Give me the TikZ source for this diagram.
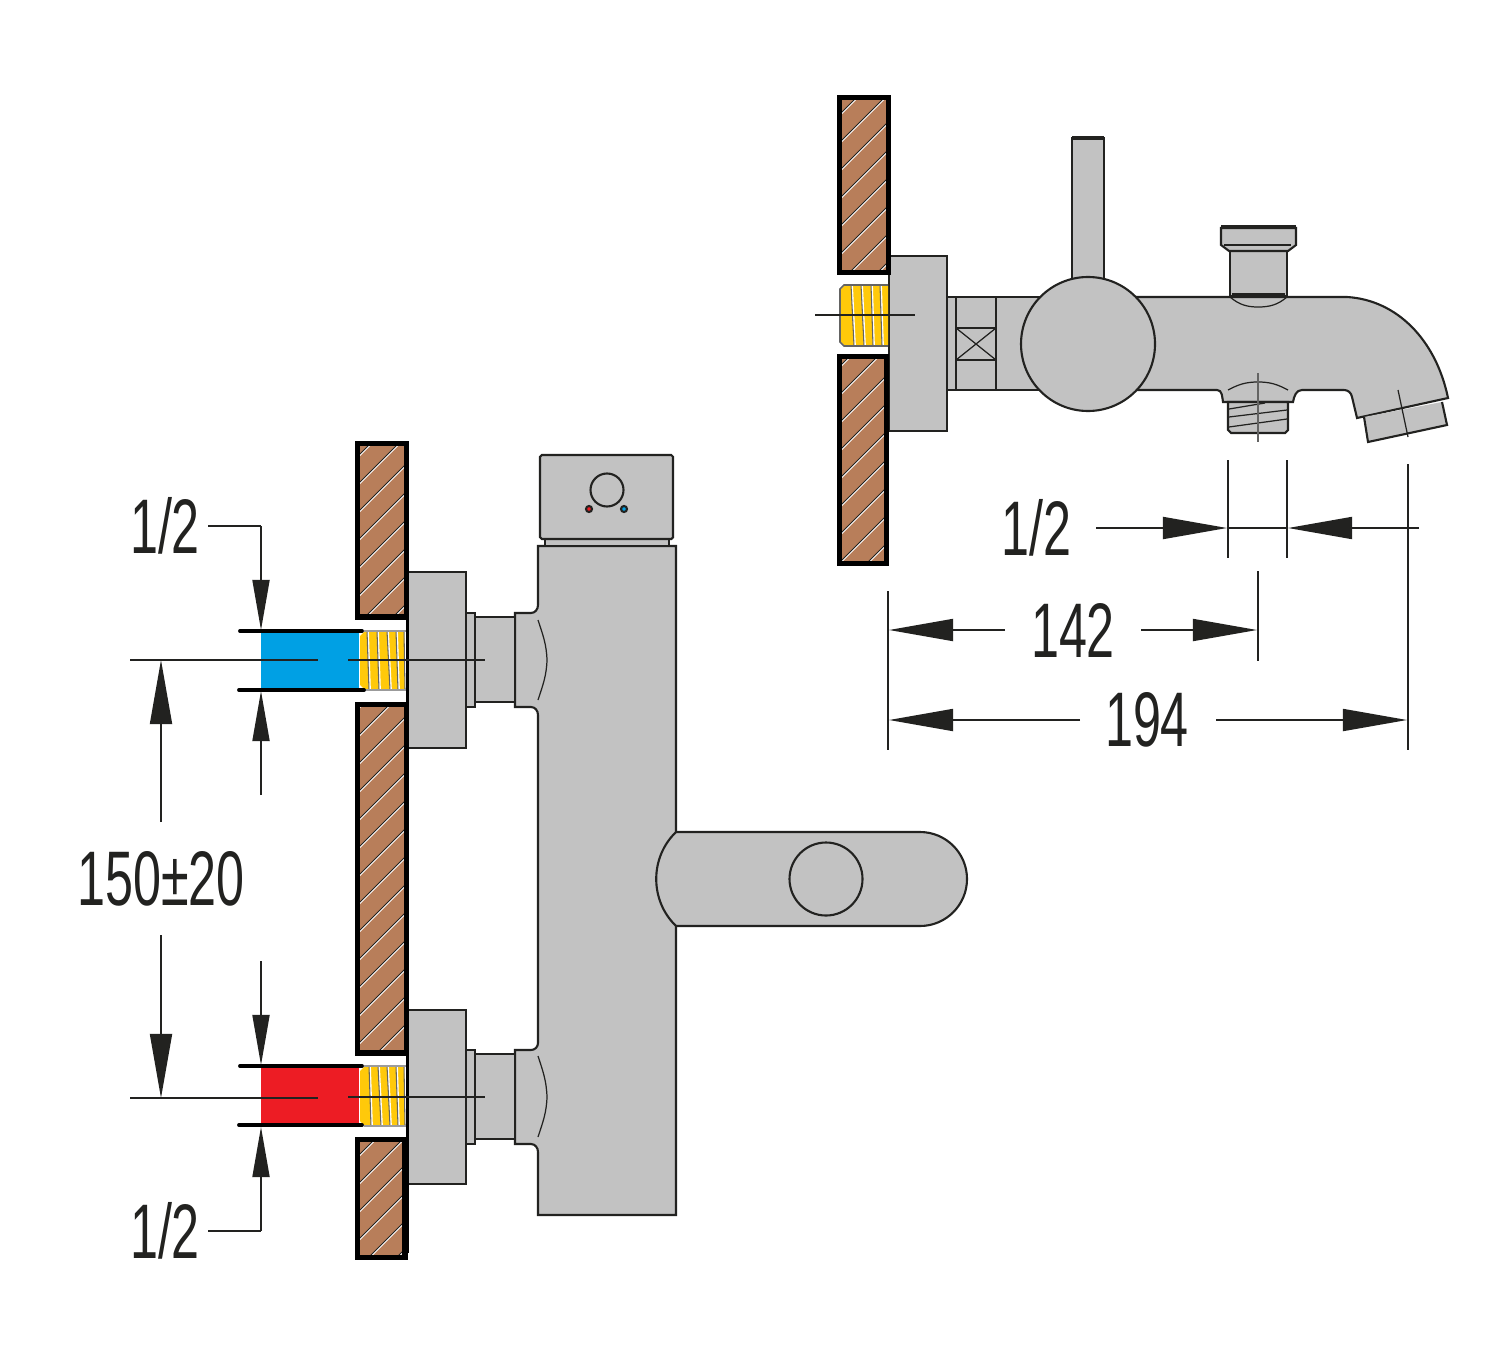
\documentclass[tikz,border=0pt]{standalone}
\usepackage{fontspec}
\setmainfont{Liberation Sans}
\usetikzlibrary{arrows.meta}
\definecolor{bodygrey}{HTML}{C2C2C2}
\definecolor{linedark}{HTML}{222220}
\definecolor{brickbrown}{HTML}{B87E5A}
\definecolor{threadyellow}{HTML}{FFC90A}
\definecolor{coldblue}{HTML}{00A0E4}
\definecolor{hotred}{HTML}{ED1C24}
\newcommand{\dimtext}[1]{\scalebox{.65}[1]{\fontsize{22}{22}\selectfont #1}}
\newcommand{\brickwall}[4]{%
  \begin{scope}
    \clip (#1,#2) rectangle (#3,#4);
    \fill[brickbrown] (#1,#2) rectangle (#3,#4);
    \foreach \c in {450,478,...,2000} {
      \draw[white,line width=.4pt] (\c+1,0) -- (0,\c+1);
      \draw[linedark,line width=.28pt] (\c,0) -- (0,\c);
    }
  \end{scope}
  \draw[black,line width=1.45pt] (#1,#2) rectangle (#3,#4);
}
\tikzset{
  part/.style={fill=bodygrey,draw=linedark,line width=.6pt},
  heavy/.style={draw=linedark,line width=.8pt},
  thin part/.style={draw=linedark,line width=.35pt},
  pipeline/.style={black,line width=1.1pt,line cap=round},
  center/.style={draw=linedark,line width=.5pt},
  dimline/.style={draw=linedark,line width=.5pt},
  dimsmall/.style={dimline,-{Triangle[length=5mm,width=1.7mm]}},
  dimbig/.style={dimline,-{Triangle[length=6.4mm,width=2.2mm]}},
  label/.style={inner sep=0pt,text=linedark}
}
\begin{document}
\begin{tikzpicture}[x=0.01cm,y=-0.01cm]
  \useasboundingbox (0,0) rectangle (1510,1361);
  % body of the left unit
  \draw[part] (538,546) -- (676,546) -- (676,1215) -- (538,1215) -- (538,1152)
    to[out=90,in=0] (531,1144) -- (515,1144) -- (515,1050) -- (531,1050)
    to[out=0,in=-90] (538,1043) -- (538,715)
    to[out=90,in=0] (531,707) -- (515,707) -- (515,613) -- (531,613)
    to[out=0,in=-90] (538,605) -- cycle;
  \draw[heavy] (676,546) -- (676,1215);
  \draw[heavy] (515,1050) -- (515,1144);
  \draw[part] (545,539) rectangle (669,546);
  \draw[part,rounded corners=.5pt] (540,455) rectangle (673,539);
  \draw[part] (607,490) circle (16.5);
  \draw[fill=hotred,draw=linedark,line width=.6pt] (589,509) circle (3);
  \draw[fill=coldblue,draw=linedark,line width=.6pt] (624,509) circle (3);
  \draw[thin part] (538,620) to[out=-72,in=92] (547,660) to[out=-92,in=72] (538,700);
  \draw[thin part] (538,1056) to[out=-72,in=92] (547,1097) to[out=-92,in=72] (538,1137);
  % handle
  \draw[part] (676,832) -- (920,832) arc (-90:90:47) -- (676,926)
    to[out=136,in=-136] (676,832);
  \draw[part] (826,879) circle (36.5);
  % stubs
  \draw[part] (475,617) rectangle (515,702);
  \draw[part] (466,613) rectangle (475,707);
  \draw[part] (408,572) rectangle (466,748);
  \draw[part] (475,1054) rectangle (515,1139);
  \draw[part] (466,1050) rectangle (475,1144);
  \draw[part,line width=.8pt] (408,1010) rectangle (466,1184);
  % threads of the left unit
  \fill[threadyellow] (364,632) -- (406,632) -- (406,689) -- (364,689) -- (360,685) -- (360,636) -- cycle;
  \foreach \a/\b in {367/369,377/379,387/390,396/398,404/405} {
    \draw[white,line width=.5pt] (\a+1,631) -- (\b+1,690);
    \draw[linedark!70,line width=.3pt] (\a,631) -- (\b,690);
  }
  \draw[bodygrey!80!black,line width=.35pt] (364,631) -- (406,631) (364,690) -- (406,690);
  \fill[threadyellow] (364,1067) -- (406,1067) -- (406,1125) -- (364,1125) -- (360,1121) -- (360,1071) -- cycle;
  \foreach \a/\b in {369/371,378/381,387/390,396/398,404/405} {
    \draw[white,line width=.5pt] (\a+1,1066) -- (\b+1,1126);
    \draw[linedark!70,line width=.3pt] (\a,1066) -- (\b,1126);
  }
  \draw[bodygrey!80!black,line width=.35pt] (364,1066) -- (406,1066) (364,1126) -- (406,1126);
  % pipes
  \fill[coldblue] (261,631) rectangle (359,690);
  \fill[hotred] (261,1066) rectangle (359,1126);
  \draw[pipeline] (240,631) -- (362,631);
  \draw[pipeline] (239,690) -- (364,690);
  \draw[pipeline] (240,1066) -- (362,1066);
  \draw[pipeline] (239,1125) -- (362,1125);
  % walls
  \brickwall{357.5}{443.5}{406.5}{617}
  \brickwall{357.5}{704.5}{406.5}{1053}
  \brickwall{357.5}{1139.5}{405}{1257.5}
  \draw[black,line width=.9pt] (407.5,617) -- (407.5,1253);
  % right unit
  \draw[part] (1072,138) rectangle (1104,290);
  \draw[heavy,line width=1.1pt] (1072,138) -- (1104,138);
  \draw[part] (947,297) rectangle (1060,390);
  \draw[heavy] (956,297) -- (1060,297) (956,390) -- (1060,390);
  \draw[heavy] (956,297) -- (956,390);
  \draw[heavy] (996,297) -- (996,390);
  \draw[heavy] (956,328) -- (996,328) (956,360) -- (996,360);
  \draw[thin part] (956,328) -- (996,360) (956,360) -- (996,328);
  \draw[part] (1060,297) -- (1347,297) .. controls (1397,300) and (1436,340) .. (1448,398)
    -- (1357,418) -- (1352,397) to[out=100,in=0] (1344,390) -- (1302,390)
    to[out=180,in=80] (1293,402) -- (1223,402) to[out=100,in=0] (1217,390) -- (1060,390) -- cycle;
  \draw[part] (1364,417) -- (1368,442) -- (1447,425) -- (1442,402);
  \draw[thin part] (1398,390) -- (1408,437);
  \draw[part] (1088,344) circle (67);
  % top fixture of the spout
  \draw[part] (1230,251) rectangle (1287,296);
  \draw[part] (1221,228) -- (1296,228) -- (1296,245) -- (1288,251) -- (1229,251) -- (1221,245) -- cycle;
  \draw[heavy,line width=1.1pt] (1221,227) -- (1296,227);
  \draw[thin part] (1224,245) -- (1291,245);
  \draw[heavy,line width=1.1pt] (1232,295) -- (1285,295);
  \draw[thin part] (1230,297) to[out=-40,in=180] (1258,307) to[out=0,in=-140] (1287,297);
  % bottom outlet of the spout
  \draw[part] (1228,402) -- (1288,402) -- (1288,430) -- (1285,433) -- (1231,433) -- (1228,430) -- cycle;
  \draw[thin part] (1229,409) -- (1265,403) (1229,417) -- (1287,410) (1229,427) -- (1287,419);
  \draw[thin part] (1228,390) to[out=28,in=180] (1258,382) to[out=0,in=152] (1288,390);
  \draw[draw=linedark!70,line width=.4pt] (1258,373) -- (1258,442);
  % flange and thread of the right unit
  \draw[part] (889,256) rectangle (947,431);
  \fill[threadyellow] (844,286) -- (888,286) -- (888,345) -- (844,345) -- (840,341) -- (840,290) -- cycle;
  \foreach \a/\b in {851/854,861/864,871/873,880/882} {
    \draw[white,line width=.5pt] (\a+1,285) -- (\b+1,346);
    \draw[linedark!70,line width=.3pt] (\a,285) -- (\b,346);
  }
  \draw[draw=linedark!70,line width=.45pt] (888,285) -- (844,285) -- (840,289) -- (840,342) -- (844,346) -- (888,346);
  \brickwall{839.5}{97.5}{888.5}{272.5}
  \brickwall{839.5}{356.5}{886.5}{563.5}
  % center lines
  \draw[center] (130,660) -- (318,660);
  \draw[center] (348,660) -- (485,660);
  \draw[center] (130,1098) -- (318,1098);
  \draw[center] (348,1097) -- (485,1097);
  \draw[center] (815,315) -- (915,315);
  % dimensions
  \path (165,526) node[label] (halfa){\dimtext{1/2}}
    (161,879) node[label] (spacing){\dimtext{150±20}}
    (165,1231) node[label] (halfb){\dimtext{1/2}}
    (1036,528) node[label] (halfc){\dimtext{1/2}}
    (1073,630) node[label] (reacha){\dimtext{142}}
    (1147,720) node[label] (reachb){\dimtext{194}};
  \path (208,526) coordinate (ha1) (261,526) coordinate (ha2) (261,630) coordinate (ha3)
    (261,795) coordinate (ha4) (261,691) coordinate (ha5)
    (161,822) coordinate (sp1) (161,660) coordinate (sp2)
    (161,935) coordinate (sp3) (161,1098) coordinate (sp4)
    (261,961) coordinate (hb1) (261,1065) coordinate (hb2)
    (208,1231) coordinate (hb3) (261,1231) coordinate (hb4) (261,1127) coordinate (hb5)
    (1096,528) coordinate (hc1) (1227,528) coordinate (hc2)
    (1419,528) coordinate (hc3) (1288,528) coordinate (hc4)
    (1005,630) coordinate (ra1) (889,630) coordinate (ra2)
    (1141,630) coordinate (ra3) (1257,630) coordinate (ra4)
    (1080,720) coordinate (rb1) (889,720) coordinate (rb2)
    (1216,720) coordinate (rb3) (1407,720) coordinate (rb4);
  \draw[dimline] (ha1) -- (ha2);
  \draw[dimsmall] (ha2) -- (ha3);
  \draw[dimsmall] (ha4) -- (ha5);
  \draw[dimbig] (sp1) -- (sp2);
  \draw[dimbig] (sp3) -- (sp4);
  \draw[dimsmall] (hb1) -- (hb2);
  \draw[dimline] (hb3) -- (hb4);
  \draw[dimsmall] (hb4) -- (hb5);
  \draw[dimbig] (hc1) -- (hc2);
  \draw[dimbig] (hc3) -- (hc4);
  \draw[dimline] (hc2) -- (hc4);
  \draw[dimbig] (ra1) -- (ra2);
  \draw[dimbig] (ra3) -- (ra4);
  \draw[dimbig] (rb1) -- (rb2);
  \draw[dimbig] (rb3) -- (rb4);
  % extension lines
  \draw[dimline] (1228,460) -- (1228,558);
  \draw[dimline] (1287,460) -- (1287,558);
  \draw[dimline] (1408,464) -- (1408,750);
  \draw[dimline] (1258,571) -- (1258,661);
  \draw[dimline] (888,591) -- (888,750);
\end{tikzpicture}
\end{document}
